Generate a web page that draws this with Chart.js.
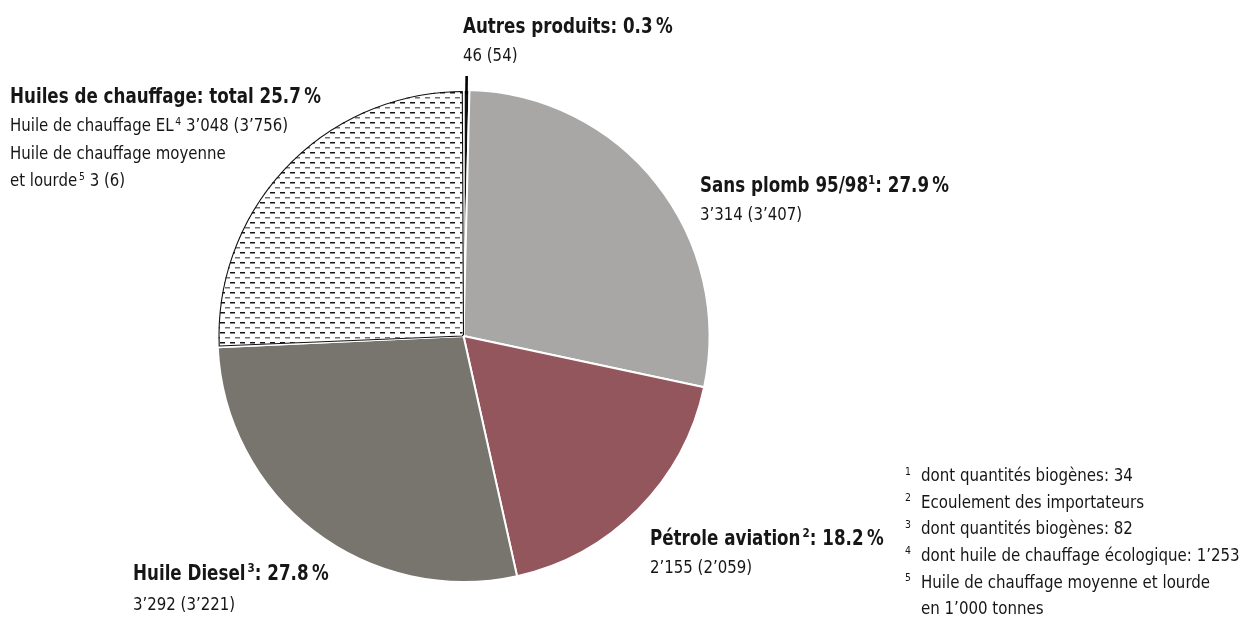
<!DOCTYPE html>
<html>
<head>
<meta charset="utf-8">
<script src="https://cdn.jsdelivr.net/npm/chart.js@4.4.1/dist/chart.umd.min.js"></script>
<style>
  html, body { margin:0; padding:0; background:#fff; }
  #wrap { position:relative; width:1244px; height:628px; overflow:hidden; }
  #c { position:absolute; left:0; top:0; }
  .lbl { position:absolute; white-space:nowrap; color:#161616;
         font-family:"Liberation Sans Narrow","DejaVu Sans Condensed","Arial Narrow",sans-serif;
         line-height:1; transform-origin:0 0; }
  .t { font-weight:bold; font-size:21px; transform:scaleX(0.885); }
  .v { font-size:17.5px; transform:scaleX(0.95); }
  .fn { font-size:17.5px; transform:scaleX(0.955); }
  sup { font-size:0.62em; vertical-align:0; position:relative; top:-0.6em; line-height:0; }
</style>
</head>
<body>
<div id="wrap">
  <canvas id="c" width="1244" height="628"></canvas>
</div>
<script>
// ---- data ----
const categories = ["Autres produits", "Sans plomb 95/98", "Pétrole aviation", "Huile Diesel", "Huiles de chauffage"];
const tonnes2 = [46, 3314, 2155, 3292, 3051];        // 1'000 t (heating: 3'048 + 3)
const tonnesPrev = [54, 3407, 2059, 3221, 3762];
const shares = ["0.3", "27.9", "18.2", "27.8", "25.7"];
const valueText = ["46", "3’314", "2’155", "3’292"];
const prevText = ["54", "3’407", "2’059", "3’221"];
const heatingParts = [["Huile de chauffage EL", "4", "3’048", "3’756"], ["et lourde", "5", "3", "6"]];
const footnotes = ["dont quantités biogènes: 34", "Ecoulement des importateurs", "dont quantités biogènes: 82",
                   "dont huile de chauffage écologique: 1’253", "Huile de chauffage moyenne et lourde"];
const unitNote = "en 1’000 tonnes";

// ---- hatch pattern ----
function hatch() {
  const p = document.createElement('canvas');
  p.width = 10; p.height = 10;
  const g = p.getContext('2d');
  g.fillStyle = '#fff'; g.fillRect(0, 0, 10, 10);
  g.fillStyle = '#151515'; g.fillRect(0, 2, 5, 1.5);
  g.fillStyle = '#707070'; g.fillRect(5, 7, 5, 1.5);
  return document.getElementById('c').getContext('2d').createPattern(p, 'repeat');
}

const colors = ['#111111', '#a8a7a5', '#94565d', '#78746e', hatch()];

const outlinePlugin = {
  id: 'outline',
  afterDatasetsDraw(chart) {
    const ctx = chart.ctx;
    const arcs = chart.getDatasetMeta(0).data;
    const h = arcs[4];
    const {x, y, startAngle, endAngle, outerRadius} = h.getProps(['x','y','startAngle','endAngle','outerRadius'], true);
    const r = outerRadius - 1.5;
    const d = 1.2 / r;
    ctx.save();
    ctx.strokeStyle = '#111'; ctx.lineWidth = 1.1;
    ctx.beginPath();
    ctx.moveTo(x + Math.cos(startAngle + 0.01) * 1.5, y + Math.sin(startAngle + 0.01) * 1.5);
    ctx.arc(x, y, r, startAngle + d, endAngle - d);
    ctx.lineTo(x + Math.cos(endAngle - 0.01) * 1.5, y + Math.sin(endAngle - 0.01) * 1.5);
    ctx.closePath();
    ctx.stroke();
    const a = arcs[0].getProps(['x','y','startAngle','endAngle','outerRadius'], true);
    const mid = (a.startAngle + a.endAngle) / 2;
    ctx.strokeStyle = '#000'; ctx.lineWidth = 2.6;
    ctx.beginPath();
    ctx.moveTo(a.x + Math.cos(mid) * (a.outerRadius - 4), a.y + Math.sin(mid) * (a.outerRadius - 4));
    ctx.lineTo(a.x + Math.cos(mid) * (a.outerRadius + 14), a.y + Math.sin(mid) * (a.outerRadius + 14));
    ctx.stroke();
    ctx.restore();
  }
};

new Chart(document.getElementById('c'), {
  type: 'pie',
  data: {
    labels: categories,
    datasets: [{
      data: tonnes2,
      backgroundColor: colors,
      borderColor: '#ffffff',
      borderWidth: 2
    }]
  },
  options: {
    responsive: false,
    animation: false,
    devicePixelRatio: 1,
    layout: { padding: { left: 216, right: 533, top: 89, bottom: 45 } },
    plugins: { legend: { display: false }, tooltip: { enabled: false } }
  },
  plugins: [outlinePlugin]
});

// ---- labels (real text) ----
const wrap = document.getElementById('wrap');
function add(cls, html, x, baseline) {
  const d = document.createElement('div');
  d.className = 'lbl ' + cls;
  d.innerHTML = html;
  wrap.appendChild(d);
  const fs = parseFloat(getComputedStyle(d).fontSize);
  d.style.left = x + 'px';
  d.style.top = (baseline - fs * 0.85) + 'px';
}
const pct = s => s + '\u202f%';
const val = (a, b) => a + ' (' + b + ')';

add('t', categories[0] + ': ' + pct(shares[0]), 463, 33.5);
add('v', val(valueText[0], prevText[0]), 463, 62);

add('t', categories[1] + '<sup>1</sup>: ' + pct(shares[1]), 700, 192.5);
add('v', val(valueText[1], prevText[1]), 700, 221);

add('t', categories[2] + '<sup>\u20092</sup>: ' + pct(shares[2]), 650, 545.5);
add('v', val(valueText[2], prevText[2]), 650, 574);

add('t', categories[3] + '<sup>\u20093</sup>: ' + pct(shares[3]), 133, 580.5);
add('v', val(valueText[3], prevText[3]), 133, 611);

add('t', categories[4] + ': total ' + pct(shares[4]), 10, 104);
add('v', heatingParts[0][0] + '<sup>\u2009' + heatingParts[0][1] + '</sup> ' + val(heatingParts[0][2], heatingParts[0][3]), 10, 132);
add('v', 'Huile de chauffage moyenne', 10, 160);
add('v', heatingParts[1][0] + '<sup>\u2009' + heatingParts[1][1] + '</sup> ' + val(heatingParts[1][2], heatingParts[1][3]), 10, 187);

footnotes.forEach((f, i) => {
  add('fn', '<sup>' + (i + 1) + '</sup>', 905, 482 + i * 26.6);
  add('fn', f, 921, 482 + i * 26.6);
});
add('fn', unitNote, 921, 482 + 5 * 26.6);
</script>
</body>
</html>
